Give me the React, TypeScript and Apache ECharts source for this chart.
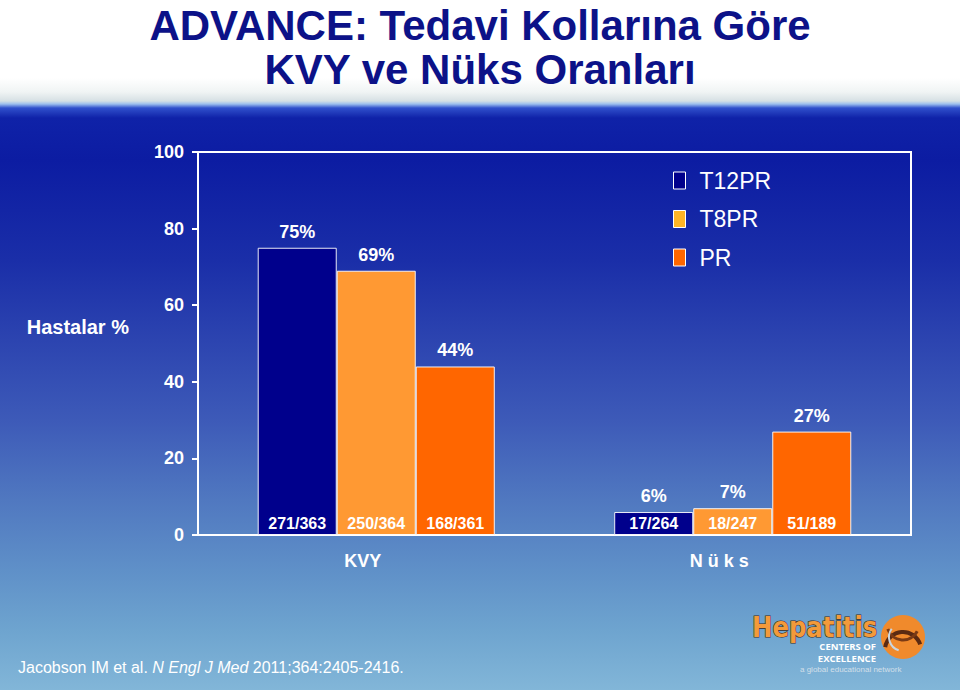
import React, { useEffect, useRef } from "react";
import * as echarts from "echarts";

const categories = ["KVY", "N ü k s"];
const seriesNames = ["T12PR", "T8PR", "PR"];
const t12prValues = [75, 6];
const t8prValues = [69, 7];
const prValues = [44, 27];
const t12prCounts = ["271/363", "17/264"];
const t8prCounts = ["250/364", "18/247"];
const prCounts = ["168/361", "51/189"];
const yMin = 0;
const yMax = 100;
const yInterval = 20;
const titleText = "ADVANCE: Tedavi Kollarına Göre\nKVY ve Nüks Oranları";
const yAxisName = "Hastalar %";

const FONT = '"Liberation Sans", Arial, sans-serif';
const barColors = ["#00008c", "#ff9933", "#ff6600"];
const legendColors = ["#00008c", "#ffb526", "#ff6600"];

export default function App() {
  const ref = useRef<HTMLDivElement>(null);

  useEffect(() => {
    if (!ref.current) return;
    const chart = echarts.init(ref.current, null, { renderer: "svg" });
    const values = [t12prValues, t8prValues, prValues];
    const counts = [t12prCounts, t8prCounts, prCounts];
    const stacks = ["s1", "s2", "s3"];

    const barSeries = seriesNames.map((name, i) => ({
      name,
      type: "bar",
      stack: stacks[i],
      data: values[i],
      barGap: "0%",
      barCategoryGap: "33.5%",
      itemStyle: {
        color: barColors[i],
        borderColor: "rgba(255,255,255,0.9)",
        borderWidth: 1,
      },
      label: {
        show: true,
        position: "insideBottom",
        distance: 4,
        formatter: (p: any) => counts[i][p.dataIndex],
        color: "#ffffff",
        fontWeight: "bold",
        fontSize: 16,
        fontFamily: FONT,
      },
    }));

    const topLabelSeries = seriesNames.map((name, i) => ({
      name: name + " label",
      type: "bar",
      stack: stacks[i],
      data: values[i].map(() => 0),
      barGap: "0%",
      barCategoryGap: "33.5%",
      itemStyle: { color: "rgba(0,0,0,0)" },
      silent: true,
      label: {
        show: true,
        position: "top",
        distance: 7,
        formatter: (p: any) => values[i][p.dataIndex] + "%",
        color: "#ffffff",
        fontWeight: "bold",
        fontSize: 18,
        fontFamily: FONT,
      },
    }));

    chart.setOption({
      animation: false,
      title: {
        text: titleText,
        left: "center",
        top: 3,
        padding: 0,
        textStyle: {
          color: "#0c1288",
          fontSize: 42,
          lineHeight: 44,
          fontWeight: "bold",
          fontFamily: FONT,
        },
      },
      legend: {
        data: seriesNames.map((n, i) => ({
          name: n,
          itemStyle: { color: legendColors[i], borderColor: "#ffffff", borderWidth: 1 },
        })),
        orient: "vertical",
        left: 668,
        top: 164,
        icon: "rect",
        itemWidth: 12,
        itemHeight: 17,
        itemGap: 15.5,
        textStyle: {
          color: "#ffffff",
          fontSize: 23,
          fontFamily: FONT,
          padding: [0, 0, 0, 9],
        },
      },
      grid: {
        left: 198,
        top: 152,
        right: 49,
        bottom: 155,
        show: true,
        borderColor: "#ffffff",
        borderWidth: 2,
        backgroundColor: "transparent",
      },
      xAxis: {
        type: "category",
        data: categories,
        axisLine: { show: true, lineStyle: { color: "#ffffff", width: 2 } },
        axisTick: { show: false },
        axisLabel: {
          color: "#ffffff",
          fontWeight: "bold",
          fontSize: 18,
          fontFamily: FONT,
          margin: 17,
          padding: [0, 27, 0, 0],
        },
      },
      yAxis: {
        type: "value",
        min: yMin,
        max: yMax,
        interval: yInterval,
        splitLine: { show: false },
        axisLine: { show: true, lineStyle: { color: "#ffffff", width: 2 } },
        axisTick: { show: true, length: 6, lineStyle: { color: "#ffffff", width: 2 } },
        axisLabel: {
          color: "#ffffff",
          fontWeight: "bold",
          fontSize: 18,
          fontFamily: FONT,
          margin: 14,
        },
      },
      series: [...barSeries, ...topLabelSeries],
      graphic: [
        {
          type: "text",
          x: 129,
          y: 327,
          style: {
            text: yAxisName,
            textAlign: "right",
            textVerticalAlign: "middle",
            font: 'bold 20px "Liberation Sans", Arial, sans-serif',
            fill: "#ffffff",
          },
        },
        {
          type: "text",
          left: 18,
          top: 659,
          style: {
            text: "{n|Jacobson IM et al. }{i|N Engl J Med}{n| 2011;364:2405-2416.}",
            rich: {
              n: { fill: "#ffffff", fontSize: 16, fontFamily: FONT },
              i: { fill: "#ffffff", fontSize: 16, fontFamily: FONT, fontStyle: "italic" },
            },
          },
        },
        {
          type: "group",
          children: [
            {
              type: "text",
              x: 752,
              y: 627,
              scaleX: 0.87,
              style: {
                text: "Hepatitis",
                x: 0,
                y: 0,
                textVerticalAlign: "middle",
                font: 'bold 28px "DejaVu Sans"',
                fill: "#f39a3a",
                stroke: "#3b2a20",
                lineWidth: 1.2,
              },
            },
            {
              type: "text",
              x: 876,
              y: 646.5,
              style: {
                text: "CENTERS OF",
                textAlign: "right",
                textVerticalAlign: "middle",
                font: 'bold 9.5px "Open Sans"',
                fill: "#ffffff",
              },
            },
            {
              type: "text",
              x: 876,
              y: 658,
              style: {
                text: "EXCELLENCE",
                textAlign: "right",
                textVerticalAlign: "middle",
                font: 'bold 9.5px "Open Sans"',
                fill: "#ffffff",
              },
            },
            {
              type: "text",
              x: 800,
              y: 669,
              style: {
                text: "a global educational network",
                textVerticalAlign: "middle",
                font: '8px "Liberation Sans"',
                fill: "rgba(225,232,238,0.85)",
              },
            },
            {
              type: "circle",
              shape: { cx: 903, cy: 637, r: 22 },
              style: { fill: "#f08a2c" },
            },
            {
              type: "arc",
              shape: { cx: 903, cy: 650, r: 18, startAngle: Math.PI * 1.05, endAngle: Math.PI * 1.9 },
              style: { stroke: "#5a2a12", lineWidth: 4, fill: "none" },
            },
            {
              type: "arc",
              shape: { cx: 903, cy: 624, r: 16, startAngle: Math.PI * 0.15, endAngle: Math.PI * 0.9 },
              style: { stroke: "#7a3a14", lineWidth: 3, fill: "none" },
            },
            {
              type: "arc",
              shape: { cx: 903, cy: 637, r: 14, startAngle: Math.PI * 0.6, endAngle: Math.PI * 1.2 },
              style: { stroke: "#c9d6e0", lineWidth: 2, fill: "none" },
            },
          ],
        },
      ],
    });
    return () => chart.dispose();
  }, []);

  return (
    <div
      style={{
        position: "fixed",
        left: 0,
        top: 0,
        width: 960,
        height: 690,
        background:
          "linear-gradient(to bottom, #ffffff 0px, #ffffff 78px, #f0f4f4 92px, #d6e0e4 101px, #9ec0ee 104px, #3050cc 108px, #0f22a8 118px, #0c1ca2 160px, #1a2ea8 260px, #2c44b0 340px, #3d5ab8 420px, #5078c0 500px, #5f90c8 570px, #6ea4cf 630px, #82b6d8 690px)",
      }}
    >
      <div ref={ref} style={{ width: 960, height: 690 }} />
    </div>
  );
}
